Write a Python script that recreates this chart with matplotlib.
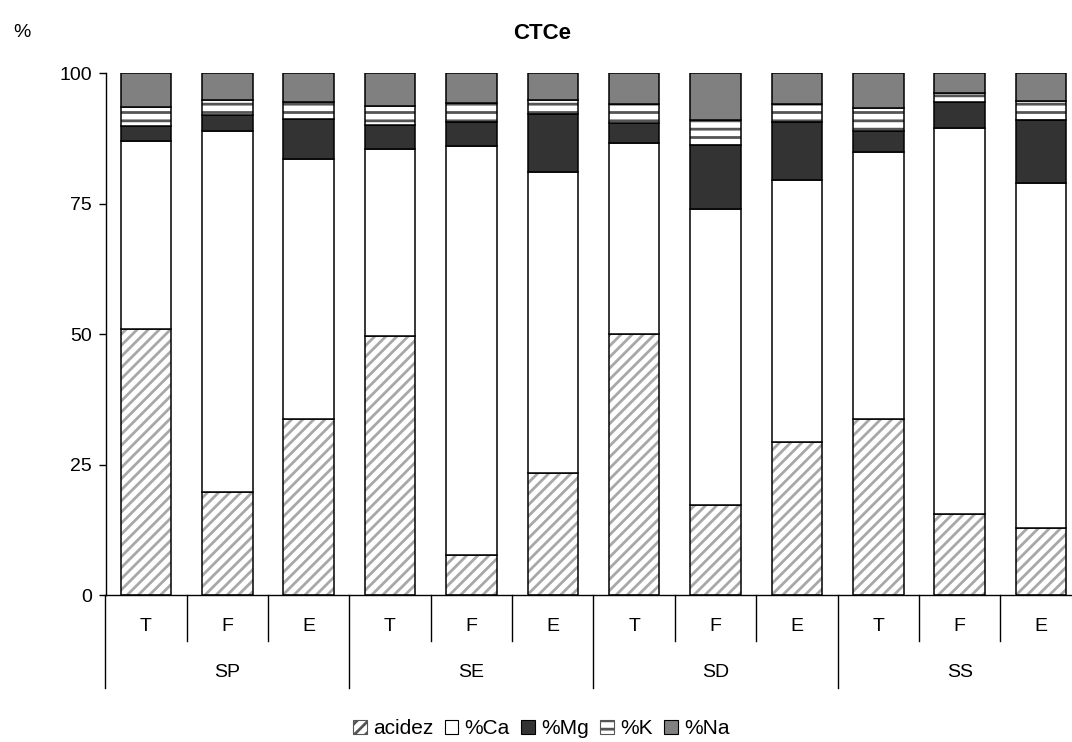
import matplotlib
matplotlib.use('Agg')
from matplotlib import pyplot as plt
import numpy as np

plt.rcParams['font.family'] = ['Liberation Sans', 'DejaVu Sans']
plt.rcParams['hatch.linewidth'] = 2.0

# data (% of CTCe)
sites = ['SP', 'SE', 'SD', 'SS']
depths = ['T', 'F', 'E']
acidez = [51.0, 19.8, 33.8, 49.6, 7.7, 23.4, 50.1, 17.2, 29.3, 33.8, 15.5, 12.8]
ca = [36.0, 69.1, 49.7, 35.8, 78.3, 57.6, 36.6, 56.7, 50.3, 51.1, 74.0, 66.2]
mg = [2.8, 3.1, 7.8, 4.6, 4.7, 11.1, 3.7, 12.3, 11.1, 4.0, 4.9, 12.0]
k = [3.7, 2.8, 3.2, 3.7, 3.5, 2.7, 3.6, 4.9, 3.3, 4.4, 1.8, 3.6]
na = [6.5, 5.2, 5.5, 6.3, 5.8, 5.2, 6.0, 8.9, 6.0, 6.7, 3.8, 5.4]

series = ['acidez', '%Ca', '%Mg', '%K', '%Na']
values = [acidez, ca, mg, k, na]
faces = ['white', 'white', '#333333', 'white', '#808080']
hatches = ['///', None, None, '--', None]
hatch_cols = ['#a8a8a8', None, None, '#555555', None]

x = np.arange(len(acidez))
width = 0.62

fig = plt.figure(figsize=(10.72, 7.42), dpi=100)
ax = fig.add_axes([0.0989, 0.198, 0.9011, 0.7035])

bottom = np.zeros(len(x))
handles = []
for name, vals, fc, h, hc in zip(series, values, faces, hatches, hatch_cols):
    vals = np.array(vals)
    if h:
        ax.bar(x, vals, width, bottom=bottom, color=fc, hatch=h,
               edgecolor=hc, linewidth=0)
    ax.bar(x, vals, width, bottom=bottom, color=fc if not h else 'none',
           edgecolor='black', linewidth=1.1)
    # legend proxy
    if h:
        p = plt.Rectangle((0, 0), 1, 1, facecolor=fc, hatch=h,
                          edgecolor='#555555', linewidth=0.8)
    else:
        p = plt.Rectangle((0, 0), 1, 1, facecolor=fc, edgecolor='black', linewidth=0.8)
    handles.append(p)
    bottom += vals

ax.set_xlim(-0.49, 11.38)
ax.set_ylim(0, 100)
ax.set_yticks([0, 25, 50, 75, 100])
ax.tick_params(axis='y', labelsize=14, direction='out', length=5, width=1, pad=5)
ax.set_xticks([])
for s in ['top', 'right']:
    ax.spines[s].set_visible(False)
ax.spines['left'].set_linewidth(1)
ax.spines['bottom'].set_linewidth(1)

# two-level category axis
tr = ax.get_xaxis_transform()
for i in range(len(x)):
    ax.text(i, -0.061, depths[i % 3], transform=tr, ha='center', va='center', fontsize=14)
for i in range(len(x) + 1):
    low = -0.178 if i % 3 == 0 else -0.088
    ax.plot([i - 0.5, i - 0.5], [0, low], transform=tr, color='black', lw=1, clip_on=False)
for j, s in enumerate(sites):
    ax.text(3 * j + 1, -0.149, s, transform=tr, ha='center', va='center', fontsize=14)

fig.text(0.506, 0.955, 'CTCe', ha='center', va='center', fontsize=16, fontweight='bold')
fig.text(0.012, 0.956, '%', ha='left', va='center', fontsize=14)

fig.legend(handles, series, loc='center', bbox_to_anchor=(0.505, 0.018), ncol=5,
           frameon=False, fontsize=15, handlelength=0.65, handleheight=0.65,
           handletextpad=0.3, columnspacing=0.55)

fig.savefig('out.png', dpi=100)
